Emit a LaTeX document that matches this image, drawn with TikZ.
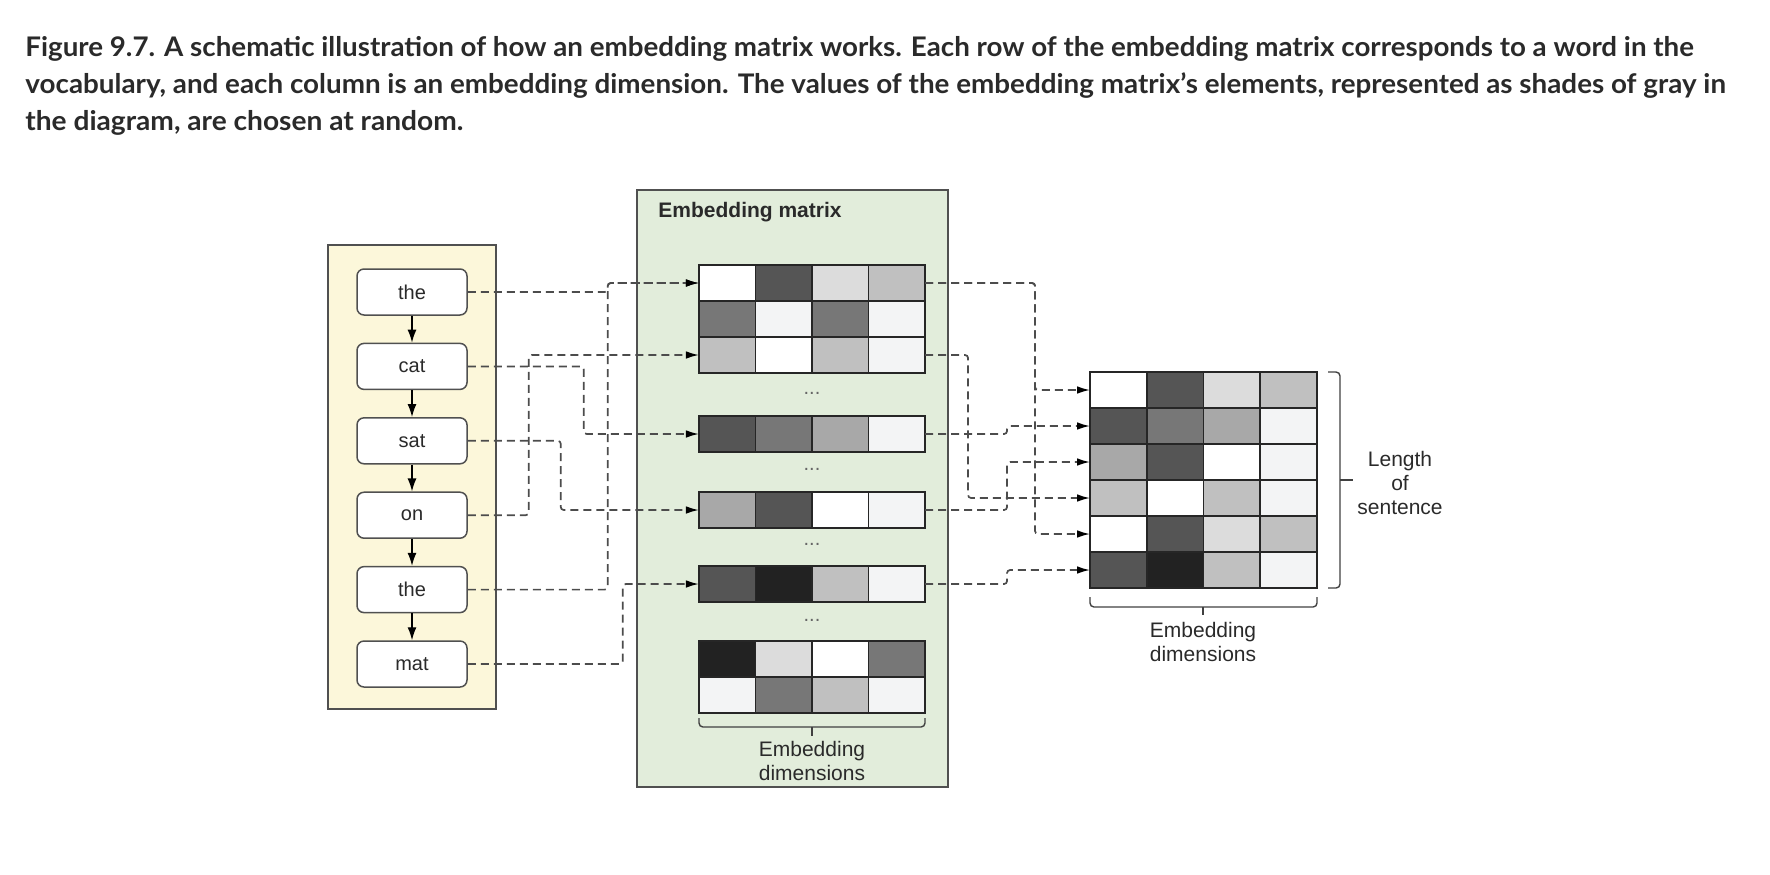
\documentclass[tikz,border=0pt]{standalone}
\usepackage{fontspec}
\setmainfont{Liberation Sans}
\newfontfamily\capfont{Lato}
\usetikzlibrary{arrows.meta}

\definecolor{ylw}{HTML}{FCF7DA}
\definecolor{grn}{HTML}{E2EDDB}
\definecolor{edgec}{HTML}{505050}
\definecolor{txt}{HTML}{2A2A2A}
\definecolor{c0}{HTML}{FFFFFF}
\definecolor{c1}{HTML}{F3F4F5}
\definecolor{c2}{HTML}{DCDCDC}
\definecolor{c3}{HTML}{C0C0C0}
\definecolor{c4}{HTML}{A8A8A8}
\definecolor{c5}{HTML}{777777}
\definecolor{c6}{HTML}{555555}
\definecolor{c7}{HTML}{222222}

\tikzset{
  panelbox/.style={draw=edgec, line width=0.75pt},
  wordbox/.style={draw=edgec, fill=white, line width=0.75pt, rounded corners=3.5pt,
    minimum width=55pt, minimum height=23pt, inner sep=0pt, font=\fontsize{10pt}{12pt}\selectfont, text=txt},
  cellbox/.style={draw=black!85, line width=0.75pt, minimum width=28.3pt, minimum height=18pt,
    inner sep=0pt, outer sep=0pt},
  warrow/.style={line width=0.7pt, black, -{Latex[length=6.5pt,width=4.5pt]}},
  conn/.style={draw=black!70, line width=0.85pt, dash pattern=on 4pt off 2.5pt,
    rounded corners=1.5pt, -{Latex[length=6.5pt,width=3.8pt,black]}},
  lbltxt/.style={align=center, inner sep=0pt, text=txt, font=\fontsize{10.5pt}{12pt}\selectfont},
  brk/.style={draw=black!75, line width=0.7pt, rounded corners=2pt},
  ellip/.style={inner sep=0pt, text=black!60, font=\fontsize{10pt}{10pt}\selectfont},
  captxt/.style={anchor=base west, inner sep=0pt, text=txt, font=\capfont\bfseries\fontsize{13.5pt}{16pt}\selectfont}
}

\begin{document}
\begin{tikzpicture}[x=0.5pt, y=-0.5pt]
\useasboundingbox (0,0) rectangle (1770,874);

% caption
\node[captxt] (cap1) at (25,56) {\resizebox{834pt}{\height}{Figure 9.7. A schematic illustration of how an embedding matrix works. Each row of the embedding matrix corresponds to a word in the}};
\node[captxt] (cap2) at (25,93) {\resizebox{850pt}{\height}{vocabulary, and each column is an embedding dimension. The values of the embedding matrix’s elements, represented as shades of gray in}};
\node[captxt] (cap3) at (25,130) {\resizebox{219pt}{\height}{the diagram, are chosen at random.}};

% panels
\path[panelbox, fill=ylw] (328,245) rectangle (496,709);
\path[panelbox, fill=grn] (637,190) rectangle (948,787);
\node[anchor=west, inner sep=0pt, text=txt, font=\bfseries\fontsize{10.5pt}{12pt}\selectfont] (title) at (658,212) {Embedding matrix};

% words
\node[wordbox] (w1) at (412,292) {the};
\node[wordbox] (w2) at (412,366.4) {cat};
\node[wordbox] (w3) at (412,440.8) {sat};
\node[wordbox] (w4) at (412,515.2) {on};
\node[wordbox] (w5) at (412,589.6) {the};
\node[wordbox] (w6) at (412,664) {mat};
\foreach \a/\b in {w1/w2,w2/w3,w3/w4,w4/w5,w5/w6}
  \draw[warrow] (\a.south) -- (\b.north);

% embedding matrix rows
\foreach \r/\y/\ca/\cb/\cc/\cd in {
  1/283/c0/c6/c2/c3, 2/319/c5/c1/c5/c1, 3/355/c3/c0/c3/c1,
  4/434/c6/c5/c4/c1, 5/510/c4/c6/c0/c1, 6/584/c6/c7/c3/c1,
  7/659/c7/c2/c0/c5, 8/695/c1/c5/c3/c1}{
  \foreach \col [count=\k] in {\ca,\cb,\cc,\cd}
    \node[cellbox, fill=\col] (M-\r-\k) at ({699+56.5*(\k-0.5)},\y) {};
}
\foreach \y [count=\i] in {393,469,544,620}
  \node[ellip] (dot\i) at (812,\y) {...};

% brace under embedding matrix
\draw[brk] (699,718) |- (812,727) -| (925,718);
\draw[brk] (812,727) -- (812,736);
\node[lbltxt] (ed1) at (812,761) {Embedding\\dimensions};

% sentence matrix
\foreach \r/\y/\ca/\cb/\cc/\cd in {
  1/390/c0/c6/c2/c3, 2/426/c6/c5/c4/c1, 3/462/c4/c6/c0/c1,
  4/498/c3/c0/c3/c1, 5/534/c0/c6/c2/c3, 6/570/c6/c7/c3/c1}{
  \foreach \col [count=\k] in {\ca,\cb,\cc,\cd}
    \node[cellbox, fill=\col] (R-\r-\k) at ({1090+56.75*(\k-0.5)},\y) {};
}
\draw[brk] (1328,372) -| (1340,480) |- (1328,588);
\draw[brk] (1340,480) -- (1353,480);
\node[lbltxt] (len) at (1400,483) {Length\\of\\sentence};
\draw[brk] (1090,597) |- (1203,607) -| (1317,597);
\draw[brk] (1203,607) -- (1203,615);
\node[lbltxt] (ed2) at (1203,642) {Embedding\\dimensions};

% connectors: words -> embedding rows
\draw[conn] (w1.east) -- ++(140,0) |- (M-1-1.west);
\draw[conn] (w5.east) -- ++(140,0) |- (M-1-1.west);
\draw[conn] (w2.east) -- ++(116,0) |- (M-4-1.west);
\draw[conn] (w3.east) -- ++(93,0) |- (M-5-1.west);
\draw[conn] (w4.east) -- ++(61,0) |- (M-3-1.west);
\draw[conn] (w6.east) -- ++(155,0) |- (M-6-1.west);

% connectors: embedding rows -> sentence matrix
\draw[conn] (M-1-4.east) -- ++(110,0) |- (R-1-1.west);
\draw[conn] (M-1-4.east) -- ++(110,0) |- (R-5-1.west);
\draw[conn] (M-3-4.east) -- ++(43,0) |- (R-4-1.west);
\draw[conn] (M-4-4.east) -- ++(82,0) |- (R-2-1.west);
\draw[conn] (M-5-4.east) -- ++(82,0) |- (R-3-1.west);
\draw[conn] (M-6-4.east) -- ++(82,0) |- (R-6-1.west);
\end{tikzpicture}
\end{document}
